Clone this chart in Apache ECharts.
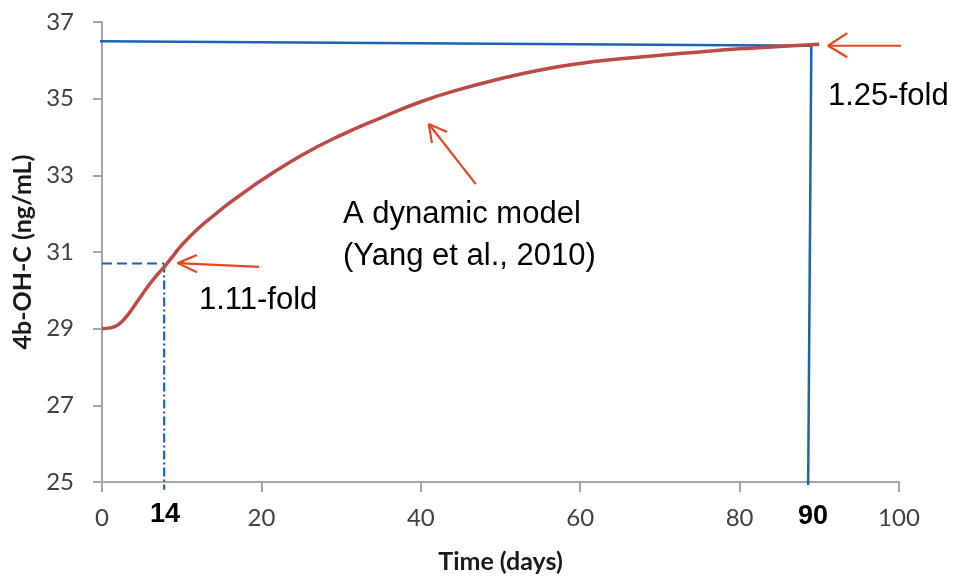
<!DOCTYPE html>
<html>
<head>
<meta charset="utf-8">
<script src="https://cdn.jsdelivr.net/npm/echarts@6/dist/echarts.min.js"></script>
<style>html,body{margin:0;padding:0;background:#fff}#c{width:953px;height:576px}</style>
</head>
<body>
<div id="c"></div>
<script>
// Model curve (days, ng/mL)
const days = [0,1,2,3,4,5,6,7,8,9,10,12,14,16,18,20,25,30,35,40,45,50,55,60,65,70,75,80,85,90];
const conc = [29.00,29.02,29.10,29.30,29.58,29.88,30.17,30.42,30.66,30.92,31.18,31.60,31.95,32.28,32.58,32.87,33.52,34.05,34.50,34.92,35.25,35.52,35.75,35.92,36.04,36.13,36.22,36.30,36.36,36.42];

// Axis ticks
const xTicks = [0,20,40,60,80,100];
const yTicks = [25,27,29,31,33,35,37];

// Annotation guide lines (data coordinates)
const topLine = [[-0.6,36.50],[89.0,36.38]];
const rightVLine = [[89.0,36.38],[88.6,24.92]];
const hDash14 = [[0,30.70],[7.8,30.70]];
const vDash14 = [[7.8,30.70],[7.8,24.80]];
// Arrows: [tail, tip] and head [arm1, tip, arm2]
const arrow125 = [[101.1,36.38],[91.1,36.38]];
const head125 = [[93.5,36.71],[91.1,36.38],[93.5,36.08]];
const arrow111 = [[19.7,30.61],[9.5,30.71]];
const head111 = [[11.9,30.92],[9.5,30.71],[11.9,30.47]];
const arrowModel = [[46.9,32.77],[41.0,34.34]];
const headModel = [[43.3,34.13],[41.0,34.34],[41.4,33.84]];

const blue = '#1a63b5';
const red = '#e8461e';

function guide(data, color, width, type) {
  return {type:'line', data:data, symbol:'none', silent:true, clip:false, animation:false,
    z:5, lineStyle:{color:color, width:width, type:type}};
}

const chart = echarts.init(document.getElementById('c'));
chart.setOption({
  animation:false,
  backgroundColor:'#fff',
  grid:{left:102, right:54, top:22, bottom:94, containLabel:false, outerBoundsMode:'none'},
  xAxis:{type:'value', min:0, max:100, interval:20,
    axisLine:{show:true, lineStyle:{color:'#a6a6a6', width:2}},
    axisTick:{show:true, length:10, lineStyle:{color:'#a6a6a6', width:2}},
    axisLabel:{color:'#404040', fontFamily:'Lato', fontSize:24, margin:24,
      formatter:v=> xTicks.includes(v) ? String(v) : ''},
    splitLine:{show:false},
    name:'Time (days)', nameLocation:'middle', nameGap:67,
    nameTextStyle:{color:'#1a1a1a', fontFamily:'Lato', fontWeight:'bold', fontSize:25}},
  yAxis:{type:'value', min:25, max:37, interval:2,
    axisLine:{show:true, lineStyle:{color:'#a6a6a6', width:2}},
    axisTick:{show:true, length:9, lineStyle:{color:'#a6a6a6', width:2}},
    axisLabel:{color:'#404040', fontFamily:'Lato', fontSize:24, margin:28,
      formatter:v=> yTicks.includes(v) ? String(v) : ''},
    splitLine:{show:false},
    name:'4b-OH-C (ng/mL)', nameLocation:'middle', nameGap:62, nameRotate:90,
    nameTextStyle:{color:'#1a1a1a', fontFamily:'Lato', fontWeight:'bold', fontSize:25}},
  series:[
    guide(topLine, blue, 2.5, 'solid'),
    guide(rightVLine, blue, 2.5, 'solid'),
    guide(hDash14, blue, 2, [10,5]),
    guide(vDash14, blue, 2.2, [9,3,2,3]),
    {type:'line', data:days.map((d,i)=>[d,conc[i]]), smooth:true, symbol:'none',
      animation:false, z:6, lineStyle:{color:'#bd4a46', width:3.5}},
    guide(arrow125, red, 2.2, 'solid'),
    guide(head125, red, 2.2, 'solid'),
    guide(arrow111, red, 2.2, 'solid'),
    guide(head111, red, 2.2, 'solid'),
    guide(arrowModel, red, 2.2, 'solid'),
    guide(headModel, red, 2.2, 'solid')
  ],
  graphic:[
    {type:'text', x:828, y:96, style:{text:'1.25-fold', font:'31px "Liberation Sans"', fill:'#000', verticalAlign:'middle'}},
    {type:'text', x:199, y:300, style:{text:'1.11-fold', font:'31px "Liberation Sans"', fill:'#000', verticalAlign:'middle'}},
    {type:'text', x:343, y:214, style:{text:'A dynamic model', font:'31px "Liberation Sans"', fill:'#000', verticalAlign:'middle'}},
    {type:'text', x:343, y:256, style:{text:'(Yang et al., 2010)', font:'31px "Liberation Sans"', fill:'#000', verticalAlign:'middle'}},
    {type:'text', x:165, y:515, style:{text:'14', font:'bold 27px "Liberation Sans"', fill:'#000', align:'center', verticalAlign:'middle'}},
    {type:'text', x:813, y:517, style:{text:'90', font:'bold 27px "Liberation Sans"', fill:'#000', align:'center', verticalAlign:'middle'}}
  ]
});
</script>
</body>
</html>
